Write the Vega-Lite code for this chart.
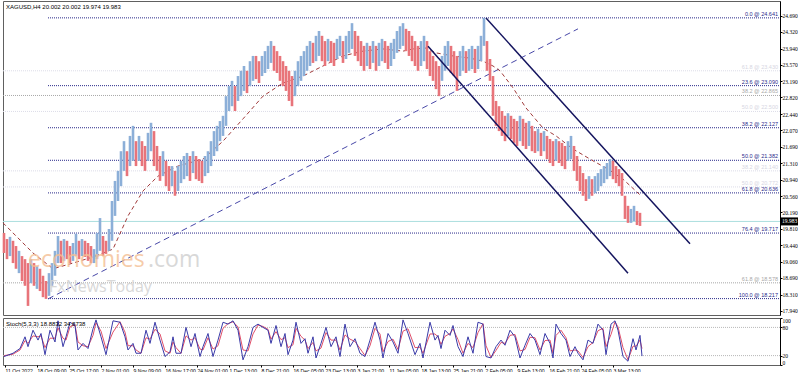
{
"$schema":"https://vega.github.io/schema/vega-lite/v6.json",
"padding":0,
"spacing":1,
"background":"white",
"config":{"view":{"stroke":"#606060","strokeWidth":1},"font":"Liberation Sans","axis":{"labelFont":"Liberation Sans","labelFontSize":5.5,"labelColor":"#000","domainColor":"#000","tickColor":"#000","tickSize":2,"labelPadding":1,"grid":false,"title":null,"labelOverlap":false,"tickCount":40}},
"datasets":{
"candles":[{"b":1,"h":19.72,"l":19.26,"u":0},{"b":4,"h":19.58,"l":19.12,"u":0},{"b":7,"h":19.63,"l":19.19,"u":1},{"b":10,"h":19.54,"l":19.03,"u":0},{"b":13,"h":19.42,"l":18.90,"u":0},{"b":16,"h":19.31,"l":18.80,"u":1},{"b":19,"h":19.19,"l":18.62,"u":0},{"b":22,"h":19.12,"l":18.51,"u":0},{"b":25,"h":19.03,"l":18.05,"u":0},{"b":28,"h":19.12,"l":18.57,"u":1},{"b":31,"h":19.03,"l":18.51,"u":0},{"b":34,"h":18.96,"l":18.44,"u":1},{"b":37,"h":18.90,"l":18.39,"u":0},{"b":40,"h":18.74,"l":18.25,"u":0},{"b":43,"h":18.62,"l":18.21,"u":0},{"b":46,"h":18.80,"l":18.28,"u":1},{"b":49,"h":19.03,"l":18.51,"u":1},{"b":52,"h":19.31,"l":18.74,"u":1},{"b":55,"h":19.65,"l":19.03,"u":1},{"b":58,"h":19.54,"l":19.03,"u":0},{"b":61,"h":19.58,"l":19.08,"u":1},{"b":64,"h":19.54,"l":19.12,"u":0},{"b":67,"h":19.42,"l":19.03,"u":0},{"b":70,"h":19.49,"l":19.08,"u":1},{"b":73,"h":19.70,"l":19.19,"u":1},{"b":76,"h":19.54,"l":19.12,"u":0},{"b":79,"h":19.58,"l":19.19,"u":1},{"b":82,"h":19.54,"l":19.17,"u":0},{"b":85,"h":19.49,"l":19.08,"u":0},{"b":88,"h":19.42,"l":19.03,"u":0},{"b":91,"h":19.35,"l":19.03,"u":1},{"b":94,"h":19.72,"l":19.12,"u":1},{"b":97,"h":20.06,"l":19.31,"u":1},{"b":100,"h":19.65,"l":19.19,"u":0},{"b":103,"h":19.54,"l":19.24,"u":0},{"b":106,"h":19.81,"l":19.31,"u":1},{"b":109,"h":20.45,"l":19.54,"u":1},{"b":112,"h":20.91,"l":20.11,"u":1},{"b":115,"h":21.14,"l":20.45,"u":1},{"b":118,"h":21.59,"l":20.79,"u":1},{"b":121,"h":21.82,"l":21.14,"u":1},{"b":124,"h":21.59,"l":21.02,"u":0},{"b":127,"h":21.94,"l":21.25,"u":1},{"b":130,"h":22.17,"l":21.37,"u":1},{"b":133,"h":21.82,"l":21.25,"u":0},{"b":136,"h":21.94,"l":21.37,"u":1},{"b":139,"h":21.82,"l":21.25,"u":0},{"b":142,"h":21.71,"l":21.14,"u":0},{"b":145,"h":22.01,"l":21.37,"u":1},{"b":148,"h":22.24,"l":21.59,"u":1},{"b":151,"h":22.05,"l":21.25,"u":0},{"b":154,"h":21.71,"l":21.14,"u":0},{"b":157,"h":21.48,"l":20.91,"u":0},{"b":160,"h":21.59,"l":21.02,"u":1},{"b":163,"h":21.37,"l":20.79,"u":0},{"b":166,"h":21.25,"l":20.68,"u":0},{"b":169,"h":21.25,"l":20.79,"u":1},{"b":172,"h":21.14,"l":20.57,"u":0},{"b":175,"h":21.25,"l":20.68,"u":1},{"b":178,"h":21.37,"l":20.86,"u":1},{"b":181,"h":21.48,"l":20.95,"u":1},{"b":184,"h":21.55,"l":21.02,"u":1},{"b":187,"h":21.48,"l":20.91,"u":0},{"b":190,"h":21.59,"l":21.09,"u":1},{"b":193,"h":21.48,"l":20.95,"u":0},{"b":196,"h":21.41,"l":20.91,"u":0},{"b":199,"h":21.37,"l":20.86,"u":0},{"b":202,"h":21.48,"l":21.02,"u":1},{"b":205,"h":21.59,"l":21.09,"u":1},{"b":208,"h":21.82,"l":21.25,"u":1},{"b":211,"h":22.05,"l":21.48,"u":1},{"b":214,"h":22.17,"l":21.59,"u":1},{"b":217,"h":22.28,"l":21.82,"u":1},{"b":220,"h":22.40,"l":21.94,"u":1},{"b":223,"h":22.85,"l":22.17,"u":1},{"b":226,"h":23.08,"l":22.51,"u":1},{"b":229,"h":23.20,"l":22.62,"u":1},{"b":232,"h":23.08,"l":22.51,"u":0},{"b":235,"h":23.31,"l":22.74,"u":1},{"b":238,"h":23.43,"l":22.85,"u":1},{"b":241,"h":23.54,"l":22.97,"u":1},{"b":244,"h":23.43,"l":22.92,"u":0},{"b":247,"h":23.65,"l":23.08,"u":1},{"b":250,"h":23.77,"l":23.20,"u":1},{"b":253,"h":23.77,"l":23.24,"u":0},{"b":256,"h":23.65,"l":23.15,"u":0},{"b":259,"h":23.77,"l":23.31,"u":1},{"b":262,"h":23.88,"l":23.38,"u":1},{"b":265,"h":24.00,"l":23.47,"u":1},{"b":268,"h":24.11,"l":23.61,"u":1},{"b":271,"h":24.00,"l":23.43,"u":0},{"b":274,"h":23.88,"l":23.38,"u":0},{"b":277,"h":23.77,"l":23.20,"u":0},{"b":280,"h":23.65,"l":23.08,"u":0},{"b":283,"h":23.54,"l":22.97,"u":0},{"b":286,"h":23.43,"l":22.74,"u":0},{"b":289,"h":23.31,"l":22.62,"u":0},{"b":292,"h":23.43,"l":22.85,"u":1},{"b":295,"h":23.65,"l":23.08,"u":1},{"b":298,"h":23.77,"l":23.20,"u":1},{"b":301,"h":23.88,"l":23.31,"u":1},{"b":304,"h":24.00,"l":23.43,"u":1},{"b":307,"h":24.11,"l":23.54,"u":1},{"b":310,"h":24.07,"l":23.61,"u":0},{"b":313,"h":24.23,"l":23.65,"u":1},{"b":316,"h":24.34,"l":23.77,"u":1},{"b":319,"h":24.23,"l":23.65,"u":0},{"b":322,"h":24.11,"l":23.54,"u":0},{"b":325,"h":24.16,"l":23.65,"u":1},{"b":328,"h":24.11,"l":23.61,"u":0},{"b":331,"h":24.07,"l":23.54,"u":0},{"b":334,"h":24.16,"l":23.70,"u":1},{"b":337,"h":24.23,"l":23.77,"u":1},{"b":340,"h":24.11,"l":23.61,"u":0},{"b":343,"h":24.23,"l":23.70,"u":1},{"b":346,"h":24.34,"l":23.84,"u":1},{"b":349,"h":24.52,"l":23.93,"u":1},{"b":352,"h":24.34,"l":23.77,"u":0},{"b":355,"h":24.23,"l":23.65,"u":0},{"b":358,"h":24.11,"l":23.54,"u":0},{"b":361,"h":24.00,"l":23.43,"u":0},{"b":364,"h":24.07,"l":23.54,"u":1},{"b":367,"h":24.00,"l":23.47,"u":0},{"b":370,"h":24.11,"l":23.61,"u":1},{"b":373,"h":24.00,"l":23.43,"u":0},{"b":376,"h":24.07,"l":23.54,"u":1},{"b":379,"h":24.16,"l":23.65,"u":1},{"b":382,"h":24.11,"l":23.61,"u":0},{"b":385,"h":24.00,"l":23.47,"u":0},{"b":388,"h":24.07,"l":23.54,"u":1},{"b":391,"h":24.16,"l":23.70,"u":1},{"b":394,"h":24.34,"l":23.84,"u":1},{"b":397,"h":24.45,"l":23.93,"u":1},{"b":400,"h":24.52,"l":24.00,"u":1},{"b":403,"h":24.39,"l":23.88,"u":0},{"b":406,"h":24.34,"l":23.77,"u":0},{"b":409,"h":24.23,"l":23.65,"u":0},{"b":412,"h":24.11,"l":23.54,"u":0},{"b":415,"h":24.00,"l":23.43,"u":0},{"b":418,"h":24.11,"l":23.54,"u":1},{"b":421,"h":24.23,"l":23.65,"u":1},{"b":424,"h":24.11,"l":23.47,"u":0},{"b":427,"h":23.88,"l":23.31,"u":0},{"b":430,"h":23.77,"l":23.20,"u":0},{"b":433,"h":23.65,"l":23.01,"u":0},{"b":436,"h":23.54,"l":22.85,"u":0},{"b":439,"h":23.77,"l":23.20,"u":1},{"b":442,"h":24.00,"l":23.43,"u":1},{"b":445,"h":24.11,"l":23.54,"u":1},{"b":448,"h":24.00,"l":23.38,"u":0},{"b":451,"h":23.88,"l":23.31,"u":0},{"b":454,"h":23.77,"l":22.97,"u":0},{"b":457,"h":23.88,"l":23.31,"u":1},{"b":460,"h":24.00,"l":23.43,"u":1},{"b":463,"h":23.88,"l":23.38,"u":0},{"b":466,"h":23.93,"l":23.43,"u":1},{"b":469,"h":24.00,"l":23.47,"u":1},{"b":472,"h":23.93,"l":23.38,"u":0},{"b":475,"h":24.00,"l":23.47,"u":1},{"b":478,"h":24.23,"l":23.65,"u":1},{"b":481,"h":24.64,"l":24.00,"u":1},{"b":484,"h":24.11,"l":23.43,"u":0},{"b":487,"h":23.70,"l":23.20,"u":0},{"b":490,"h":23.31,"l":22.40,"u":0},{"b":493,"h":22.74,"l":22.17,"u":0},{"b":496,"h":22.62,"l":22.05,"u":0},{"b":499,"h":22.51,"l":21.94,"u":0},{"b":502,"h":22.40,"l":21.82,"u":0},{"b":505,"h":22.46,"l":21.94,"u":1},{"b":508,"h":22.40,"l":21.87,"u":0},{"b":511,"h":22.33,"l":21.78,"u":0},{"b":514,"h":22.28,"l":21.71,"u":0},{"b":517,"h":22.40,"l":21.82,"u":1},{"b":520,"h":22.33,"l":21.71,"u":0},{"b":523,"h":22.24,"l":21.64,"u":0},{"b":526,"h":22.28,"l":21.71,"u":1},{"b":529,"h":22.17,"l":21.59,"u":0},{"b":532,"h":22.05,"l":21.55,"u":0},{"b":535,"h":22.10,"l":21.59,"u":1},{"b":538,"h":22.01,"l":21.48,"u":0},{"b":541,"h":22.05,"l":21.59,"u":1},{"b":544,"h":21.94,"l":21.41,"u":0},{"b":547,"h":21.87,"l":21.32,"u":0},{"b":550,"h":21.82,"l":21.25,"u":0},{"b":553,"h":21.87,"l":21.37,"u":1},{"b":556,"h":21.82,"l":21.32,"u":0},{"b":559,"h":21.78,"l":21.25,"u":0},{"b":562,"h":21.71,"l":21.18,"u":0},{"b":565,"h":21.82,"l":21.37,"u":1},{"b":568,"h":21.94,"l":21.41,"u":1},{"b":571,"h":21.71,"l":21.14,"u":0},{"b":574,"h":21.48,"l":20.91,"u":0},{"b":577,"h":21.25,"l":20.68,"u":0},{"b":580,"h":21.09,"l":20.57,"u":0},{"b":583,"h":20.95,"l":20.45,"u":0},{"b":586,"h":21.02,"l":20.50,"u":1},{"b":589,"h":20.95,"l":20.57,"u":0},{"b":592,"h":21.02,"l":20.63,"u":1},{"b":595,"h":21.09,"l":20.68,"u":1},{"b":598,"h":21.18,"l":20.79,"u":1},{"b":601,"h":21.25,"l":20.86,"u":1},{"b":604,"h":21.32,"l":20.95,"u":1},{"b":607,"h":21.41,"l":21.02,"u":1},{"b":610,"h":21.37,"l":20.95,"u":0},{"b":613,"h":21.25,"l":20.86,"u":0},{"b":616,"h":21.18,"l":20.79,"u":0},{"b":619,"h":21.09,"l":20.57,"u":0},{"b":622,"h":20.57,"l":20.04,"u":0},{"b":625,"h":20.34,"l":19.95,"u":0},{"b":628,"h":20.27,"l":19.95,"u":1},{"b":631,"h":20.34,"l":19.99,"u":1},{"b":634,"h":20.22,"l":19.90,"u":0},{"b":637,"h":20.18,"l":19.88,"u":0}],
"ma":[{"b":0,"p":19.95},{"b":30,"p":19.26},{"b":50,"p":18.90},{"b":70,"p":19.03},{"b":90,"p":19.17},{"b":110,"p":19.35},{"b":125,"p":20.11},{"b":140,"p":20.68},{"b":155,"p":21.02},{"b":175,"p":21.25},{"b":200,"p":21.41},{"b":220,"p":21.82},{"b":240,"p":22.33},{"b":260,"p":22.85},{"b":280,"p":23.15},{"b":300,"p":23.31},{"b":320,"p":23.54},{"b":340,"p":23.77},{"b":360,"p":23.88},{"b":380,"p":23.93},{"b":400,"p":23.88},{"b":410,"p":23.93},{"b":423,"p":23.95},{"b":433,"p":23.84},{"b":450,"p":23.77},{"b":467,"p":23.72},{"b":480,"p":23.65},{"b":490,"p":23.54},{"b":497,"p":23.43},{"b":510,"p":23.04},{"b":523,"p":22.58},{"b":540,"p":22.12},{"b":553,"p":21.94},{"b":570,"p":21.64},{"b":590,"p":21.37},{"b":605,"p":21.18},{"b":620,"p":20.95},{"b":638,"p":20.57}],
"segs":[{"id":"trend","b":45,"p":18.21},{"id":"trend","b":575,"p":24.39},{"id":"up","b":483,"p":24.64},{"id":"up","b":687,"p":19.47},{"id":"lo","b":425,"p":23.99},{"id":"lo","b":625,"p":18.80}],
"fib":[{"p":24.641,"lab":"0.0 @ 24.641","k":"m","b0":45},{"p":23.09,"lab":"23.6 @ 23.090","k":"m","b0":45},{"p":22.127,"lab":"38.2 @ 22.127","k":"m","b0":45},{"p":21.382,"lab":"50.0 @ 21.382","k":"m","b0":45},{"p":20.636,"lab":"61.8 @ 20.636","k":"m","b0":45},{"p":19.717,"lab":"76.4 @ 19.717","k":"m","b0":45},{"p":18.217,"lab":"100.0 @ 18.217","k":"m","b0":45},{"p":22.865,"lab":"38.2 @ 22.865","k":"g","b0":0},{"p":18.578,"lab":"61.8 @ 18.578","k":"g","b0":0},{"p":23.43,"lab":"61.8 @ 23.430","k":"f","b0":0},{"p":22.5,"lab":"50.0 @ 22.500","k":"f","b0":0},{"p":21.14,"lab":"38.2 @ 21.140","k":"f","b0":0},{"p":20.772,"lab":"50.0 @ 20.772","k":"f","b0":0}],
"stoch":[{"b":1,"k":18,"d":20},{"b":10,"k":25,"d":23},{"b":17,"k":35,"d":32},{"b":22,"k":60,"d":52},{"b":25,"k":39,"d":46},{"b":30,"k":74,"d":62},{"b":35,"k":53,"d":60},{"b":38,"k":67,"d":62},{"b":42,"k":22,"d":37},{"b":47,"k":74,"d":57},{"b":52,"k":49,"d":57},{"b":55,"k":94,"d":79},{"b":60,"k":39,"d":57},{"b":63,"k":60,"d":53},{"b":67,"k":91,"d":81},{"b":72,"k":84,"d":86},{"b":75,"k":32,"d":49},{"b":80,"k":46,"d":41},{"b":85,"k":35,"d":39},{"b":90,"k":77,"d":63},{"b":93,"k":96,"d":90},{"b":98,"k":60,"d":72},{"b":103,"k":22,"d":35},{"b":110,"k":94,"d":70},{"b":117,"k":91,"d":92},{"b":122,"k":60,"d":70},{"b":125,"k":32,"d":41},{"b":130,"k":46,"d":41},{"b":133,"k":25,"d":32},{"b":138,"k":25,"d":25},{"b":143,"k":74,"d":58},{"b":147,"k":46,"d":55},{"b":152,"k":91,"d":76},{"b":157,"k":53,"d":66},{"b":162,"k":18,"d":30},{"b":167,"k":28,"d":25},{"b":170,"k":60,"d":49},{"b":173,"k":25,"d":37},{"b":178,"k":25,"d":25},{"b":183,"k":80,"d":62},{"b":188,"k":39,"d":53},{"b":192,"k":67,"d":58},{"b":197,"k":18,"d":34},{"b":200,"k":39,"d":32},{"b":205,"k":67,"d":58},{"b":210,"k":18,"d":34},{"b":215,"k":53,"d":41},{"b":220,"k":91,"d":78},{"b":225,"k":87,"d":88},{"b":230,"k":94,"d":92},{"b":235,"k":74,"d":81},{"b":240,"k":11,"d":32},{"b":245,"k":39,"d":30},{"b":250,"k":80,"d":66},{"b":255,"k":87,"d":85},{"b":260,"k":80,"d":82},{"b":265,"k":74,"d":76},{"b":268,"k":46,"d":55},{"b":273,"k":84,"d":71},{"b":278,"k":39,"d":54},{"b":282,"k":67,"d":58},{"b":285,"k":22,"d":37},{"b":290,"k":53,"d":43},{"b":293,"k":91,"d":78},{"b":298,"k":46,"d":61},{"b":302,"k":56,"d":53},{"b":305,"k":25,"d":35},{"b":310,"k":60,"d":48},{"b":313,"k":15,"d":30},{"b":318,"k":46,"d":36},{"b":323,"k":80,"d":69},{"b":328,"k":39,"d":53},{"b":333,"k":60,"d":53},{"b":337,"k":18,"d":32},{"b":342,"k":87,"d":64},{"b":347,"k":39,"d":55},{"b":352,"k":56,"d":50},{"b":357,"k":25,"d":35},{"b":362,"k":18,"d":20},{"b":367,"k":53,"d":41},{"b":372,"k":91,"d":78},{"b":377,"k":53,"d":66},{"b":380,"k":15,"d":28},{"b":385,"k":67,"d":50},{"b":390,"k":49,"d":55},{"b":395,"k":25,"d":33},{"b":400,"k":96,"d":72},{"b":405,"k":67,"d":77},{"b":412,"k":22,"d":37},{"b":417,"k":46,"d":38},{"b":420,"k":15,"d":25},{"b":427,"k":91,"d":66},{"b":432,"k":53,"d":66},{"b":435,"k":63,"d":60},{"b":438,"k":35,"d":44},{"b":442,"k":74,"d":61},{"b":447,"k":63,"d":67},{"b":450,"k":84,"d":77},{"b":455,"k":39,"d":54},{"b":460,"k":18,"d":25},{"b":465,"k":60,"d":46},{"b":470,"k":25,"d":37},{"b":475,"k":91,"d":69},{"b":480,"k":87,"d":88},{"b":483,"k":18,"d":41},{"b":488,"k":15,"d":16},{"b":493,"k":39,"d":31},{"b":498,"k":53,"d":48},{"b":502,"k":42,"d":46},{"b":507,"k":74,"d":63},{"b":512,"k":60,"d":65},{"b":517,"k":15,"d":30},{"b":522,"k":42,"d":33},{"b":527,"k":67,"d":59},{"b":532,"k":53,"d":58},{"b":537,"k":22,"d":32},{"b":542,"k":67,"d":52},{"b":547,"k":46,"d":53},{"b":550,"k":15,"d":25},{"b":553,"k":87,"d":63},{"b":558,"k":67,"d":74},{"b":563,"k":53,"d":58},{"b":567,"k":18,"d":30},{"b":572,"k":39,"d":32},{"b":575,"k":25,"d":30},{"b":580,"k":11,"d":16},{"b":585,"k":53,"d":39},{"b":590,"k":46,"d":48},{"b":595,"k":87,"d":73},{"b":600,"k":74,"d":78},{"b":603,"k":22,"d":39},{"b":608,"k":87,"d":65},{"b":612,"k":94,"d":92},{"b":615,"k":74,"d":81},{"b":620,"k":18,"d":37},{"b":625,"k":8,"d":11},{"b":630,"k":56,"d":40},{"b":633,"k":32,"d":40},{"b":637,"k":63,"d":53},{"b":639,"k":19,"d":35}],
"levels":[{"v":80},{"v":20}],
"wm":[{"b":25,"p":18.94,"t":"economies","c":"o"},{"b":145,"p":18.94,"t":".com","c":"g"}],
"wm2":[{"b":46,"p":18.37,"t":"FxNewsToday"}],
"last":[{"p":19.983,"t":"19.983"}]
},
"vconcat":[
{
"width":777,"height":314,
"title":{"text":"XAGUSD,H4  20.002 20.002 19.974 19.983","anchor":"start","frame":"group","offset":-9,"dx":3,"fontSize":6,"fontWeight":"normal","color":"#000","font":"Liberation Sans"},
"layer":[
{"data":{"name":"last"},"mark":{"type":"rule","color":"#aadede","strokeWidth":1},
 "encoding":{"y":{"field":"p","type":"quantitative","scale":{"domain":[17.842,25.027],"nice":false,"zero":false},
  "axis":{"orient":"right","values":[17.94,18.31,18.69,19.06,19.44,19.81,20.19,20.56,20.94,21.31,21.69,22.07,22.44,22.82,23.19,23.57,23.94,24.32,24.69],"format":".3f","labelFont":"Liberation Sans Narrow","labelFontSize":5.5,"tickSize":2,"labelPadding":0,"labelOverlap":false,"tickCount":40}}}},
{"data":{"name":"fib"},"mark":{"type":"rule","strokeDash":[1,1],"strokeWidth":1},
 "encoding":{"x":{"field":"b0","type":"quantitative","scale":{"domain":[0,777],"nice":false,"zero":false},"axis":null},"x2":{"datum":777},
  "y":{"field":"p","type":"quantitative","scale":{"domain":[17.842,25.027],"nice":false,"zero":false}},
  "color":{"condition":[{"test":"datum.k=='m'","value":"#2a2a8a"},{"test":"datum.k=='g'","value":"#a8a8a8"}],"value":"#dcdce8"}}},
{"data":{"name":"segs"},"transform":[{"filter":"datum.id=='trend'"}],"mark":{"type":"line","color":"#4848a8","strokeWidth":1,"strokeDash":[6,4]},
 "encoding":{"x":{"field":"b","type":"quantitative","scale":{"domain":[0,777],"nice":false,"zero":false},"axis":null},"y":{"field":"p","type":"quantitative","scale":{"domain":[17.842,25.027],"nice":false,"zero":false}}}},
{"data":{"name":"ma"},"mark":{"type":"line","color":"#a03a3a","strokeWidth":1,"strokeDash":[4,3]},
 "encoding":{"x":{"field":"b","type":"quantitative","scale":{"domain":[0,777],"nice":false,"zero":false},"axis":null},"y":{"field":"p","type":"quantitative","scale":{"domain":[17.842,25.027],"nice":false,"zero":false}}}},
{"data":{"name":"candles"},"mark":{"type":"rule","strokeWidth":2.6},
 "encoding":{"x":{"field":"b","type":"quantitative","scale":{"domain":[0,777],"nice":false,"zero":false},"axis":null},
  "y":{"field":"h","type":"quantitative","scale":{"domain":[17.842,25.027],"nice":false,"zero":false}},"y2":{"field":"l"},
  "color":{"condition":{"test":"datum.u==1","value":"#8cafd8"},"value":"#e8747a"}}},
{"data":{"name":"segs"},"transform":[{"filter":"datum.id!='trend'"}],"mark":{"type":"line","color":"#14145e","strokeWidth":1.5},
 "encoding":{"x":{"field":"b","type":"quantitative","scale":{"domain":[0,777],"nice":false,"zero":false},"axis":null},"y":{"field":"p","type":"quantitative","scale":{"domain":[17.842,25.027],"nice":false,"zero":false}},"detail":{"field":"id"}}},
{"data":{"name":"fib"},"mark":{"type":"text","align":"right","baseline":"bottom","dy":-1,"fontSize":5.5,"font":"Liberation Sans"},
 "encoding":{"x":{"datum":775,"type":"quantitative","scale":{"domain":[0,777],"nice":false,"zero":false}},
  "y":{"field":"p","type":"quantitative","scale":{"domain":[17.842,25.027],"nice":false,"zero":false}},"text":{"field":"lab"},
  "color":{"condition":[{"test":"datum.k=='m'","value":"#2a2a8a"},{"test":"datum.k=='g'","value":"#a8a8a8"}],"value":"#d6d6e2"}}},
{"data":{"name":"wm"},"mark":{"type":"text","align":"left","baseline":"alphabetic","fontSize":23,"font":"Open Sans","opacity":0.8},
 "encoding":{"x":{"field":"b","type":"quantitative","scale":{"domain":[0,777],"nice":false,"zero":false}},"y":{"field":"p","type":"quantitative","scale":{"domain":[17.842,25.027],"nice":false,"zero":false}},"text":{"field":"t"},
  "color":{"condition":{"test":"datum.c=='o'","value":"#f5bf94"},"value":"#cfcfcf"}}},
{"data":{"name":"wm2"},"mark":{"type":"text","align":"left","baseline":"alphabetic","fontSize":16,"font":"Open Sans","color":"#d2d2d2","opacity":0.85},
 "encoding":{"x":{"field":"b","type":"quantitative","scale":{"domain":[0,777],"nice":false,"zero":false}},"y":{"field":"p","type":"quantitative","scale":{"domain":[17.842,25.027],"nice":false,"zero":false}},"text":{"field":"t"}}},
{"data":{"name":"last"},"mark":{"type":"rect","color":"#000","x2Offset":18,"yOffset":-4,"y2Offset":4},
 "encoding":{"x":{"datum":777,"type":"quantitative","scale":{"domain":[0,777],"nice":false,"zero":false}},"x2":{"datum":777},
  "y":{"field":"p","type":"quantitative","scale":{"domain":[17.842,25.027],"nice":false,"zero":false}},"y2":{"field":"p"}}},
{"data":{"name":"last"},"mark":{"type":"text","color":"#fff","align":"left","baseline":"middle","dx":2,"fontSize":5.5,"font":"Liberation Sans Narrow"},
 "encoding":{"x":{"datum":777,"type":"quantitative","scale":{"domain":[0,777],"nice":false,"zero":false}},
  "y":{"field":"p","type":"quantitative","scale":{"domain":[17.842,25.027],"nice":false,"zero":false}},"text":{"field":"t"}}}
]
},
{
"width":777,"height":47,
"title":{"text":"Stoch(5,3,3) 18.8832 34.8738","anchor":"start","frame":"group","offset":-9,"dx":3,"fontSize":6,"fontWeight":"normal","color":"#000","font":"Liberation Sans"},
"layer":[
{"data":{"name":"levels"},"mark":{"type":"rule","color":"#b8b8b8","strokeDash":[1,1],"strokeWidth":1},
 "encoding":{"y":{"field":"v","type":"quantitative","scale":{"domain":[0,100],"nice":false,"zero":false},
  "axis":{"orient":"right","values":[0,20,80,100],"labelFont":"Liberation Sans Narrow","labelFontSize":5.5,"tickSize":2,"labelPadding":0,"labelFlush":true,"labelOverlap":false,"tickCount":40}}}},
{"data":{"name":"stoch"},"mark":{"type":"line","color":"#e0506a","strokeWidth":1},
 "encoding":{"x":{"field":"b","type":"quantitative","scale":{"domain":[0,777],"nice":false,"zero":false},
  "axis":{"orient":"bottom","values":[2,34,66,98,130,162,194,226,258,290,322,354,386,418,450,482,514,546,578,610],
   "labelExpr":"['11 Oct 2022','18 Oct 09:00','25 Oct 17:00','2 Nov 01:00','9 Nov 09:00','16 Nov 17:00','24 Nov 01:00','1 Dec 13:00','8 Dec 21:00','16 Dec 05:00','23 Dec 13:00','3 Jan 21:00','11 Jan 05:00','18 Jan 13:00','25 Jan 21:00','2 Feb 05:00','9 Feb 13:00','16 Feb 21:00','24 Feb 05:00','3 Mar 13:00'][indexof([2,34,66,98,130,162,194,226,258,290,322,354,386,418,450,482,514,546,578,610],datum.value)]",
   "labelAlign":"left","labelFontSize":5.1,"tickSize":2,"labelPadding":1,"domain":false,"labelOverlap":false,"tickCount":40}},
  "y":{"field":"d","type":"quantitative","scale":{"domain":[0,100],"nice":false,"zero":false}}}},
{"data":{"name":"stoch"},"mark":{"type":"line","color":"#3a3aa8","strokeWidth":1},
 "encoding":{"x":{"field":"b","type":"quantitative","scale":{"domain":[0,777],"nice":false,"zero":false}},
  "y":{"field":"k","type":"quantitative","scale":{"domain":[0,100],"nice":false,"zero":false}}}}
]
}
]
}
